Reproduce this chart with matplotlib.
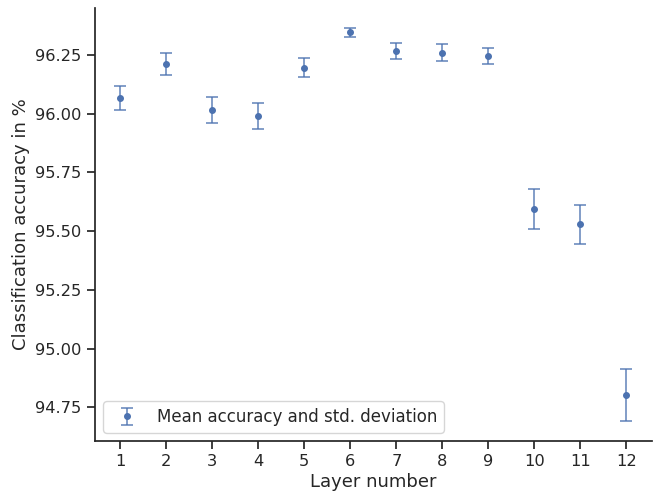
import matplotlib
matplotlib.use("Agg")
import matplotlib.pyplot as plt
import seaborn as sns
import numpy as np

sns.set_theme(style="ticks", context="notebook")
plt.rcParams['font.family'] = ['DejaVu Sans']
plt.rcParams['xtick.labelsize'] = 11.7
plt.rcParams['ytick.labelsize'] = 11.7
plt.rcParams['axes.labelsize'] = 13

# data
layers = [1, 2, 3, 4, 5, 6, 7, 8, 9, 10, 11, 12]
mean_acc = [96.068, 96.212, 96.017, 95.989, 96.195, 96.346,
            96.266, 96.260, 96.246, 95.593, 95.530, 94.801]
std_acc = [0.051, 0.048, 0.055, 0.054, 0.040, 0.020,
           0.033, 0.036, 0.033, 0.085, 0.083, 0.111]

blue = sns.color_palette("deep")[0]

fig = plt.figure(figsize=(6.59, 4.95), dpi=100)
ax = fig.add_axes([0.144, 0.109, 0.845, 0.875])

ax.errorbar(layers, mean_acc, yerr=std_acc, fmt='o', color=blue,
            markersize=4, capsize=4, elinewidth=1.3, capthick=1.3,
            ecolor=(blue[0], blue[1], blue[2], 0.75),
            label="Mean accuracy and std. deviation")

ax.set_xticks(layers)
ax.set_yticks([94.75, 95.0, 95.25, 95.5, 95.75, 96.0, 96.25])
ax.yaxis.set_major_formatter(matplotlib.ticker.FormatStrFormatter('%.2f'))
ax.set_xlabel("Layer number", labelpad=3)
ax.set_ylabel("Classification accuracy in %")
ax.legend(loc="lower left", fontsize=12)
sns.despine(ax=ax)

fig.savefig("out.png", dpi=100)
